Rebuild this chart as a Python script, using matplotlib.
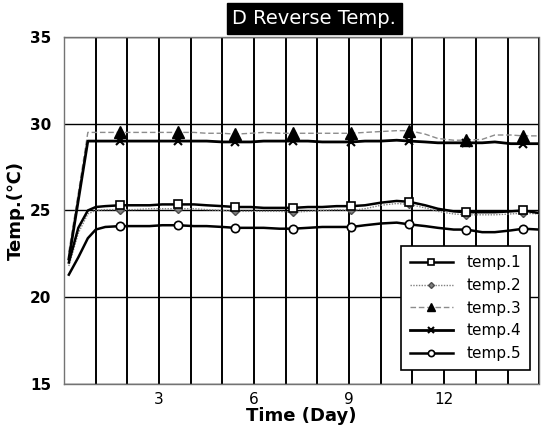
import matplotlib
matplotlib.use("Agg")
import matplotlib.pyplot as plt
from matplotlib.ticker import MultipleLocator

# time in days
days = [0.15, 0.45, 0.75, 1.0, 1.3, 1.77, 2.2, 2.7, 3.1, 3.6, 4.1, 4.5, 5.0, 5.4, 5.9, 6.3, 6.8,
        7.23, 7.7, 8.15, 8.6, 9.07, 9.5, 10.0, 10.5, 10.9, 11.4, 11.8, 12.3, 12.7, 13.2, 13.6,
        14.1, 14.5, 15.0]

temp1 = [22.0, 24.0, 25.0, 25.2, 25.25, 25.3, 25.3, 25.3, 25.35, 25.35, 25.35, 25.3, 25.25, 25.2,
         25.2, 25.15, 25.15, 25.15, 25.2, 25.2, 25.25, 25.25, 25.3, 25.45, 25.55, 25.5, 25.3, 25.1,
         24.95, 24.9, 24.9, 24.9, 24.95, 25.0, 24.85]
temp2 = [21.8, 23.7, 24.8, 25.0, 25.05, 25.05, 25.05, 25.1, 25.1, 25.1, 25.1, 25.05, 25.0, 24.95,
         24.95, 24.95, 24.95, 24.9, 24.95, 25.0, 25.05, 25.0, 25.1, 25.3, 25.4, 25.35, 25.15, 24.95,
         24.8, 24.75, 24.75, 24.75, 24.8, 24.85, 24.8]
temp3 = [22.6, 26.0, 29.5, 29.5, 29.5, 29.5, 29.5, 29.5, 29.5, 29.5, 29.5, 29.45, 29.45, 29.4,
         29.45, 29.5, 29.45, 29.45, 29.45, 29.45, 29.45, 29.45, 29.5, 29.55, 29.6, 29.6, 29.4, 29.15,
         29.05, 29.05, 29.1, 29.35, 29.35, 29.3, 29.3]
temp4 = [22.2, 25.6, 29.0, 29.0, 29.0, 29.0, 29.0, 29.0, 29.0, 29.0, 29.0, 29.0, 28.95, 28.95,
         28.95, 29.0, 29.0, 29.0, 29.0, 28.95, 28.95, 28.95, 29.0, 29.0, 29.05, 29.0, 28.95, 28.9,
         28.9, 28.9, 28.9, 28.95, 28.85, 28.85, 28.85]
temp5 = [21.3, 22.3, 23.4, 23.9, 24.05, 24.1, 24.1, 24.1, 24.15, 24.15, 24.1, 24.1, 24.05, 24.0,
         24.0, 24.0, 23.95, 23.95, 24.0, 24.05, 24.05, 24.05, 24.15, 24.25, 24.3, 24.2, 24.1, 24.0,
         23.9, 23.9, 23.75, 23.75, 23.85, 23.95, 23.9]

labels = ["temp.1", "temp.2", "temp.3", "temp.4", "temp.5"]

fig = plt.figure(figsize=(5.43, 4.25), dpi=100)
ax = fig.add_axes([0.118, 0.0965, 0.875, 0.8165])

mk = slice(5, None, 4)
ax.plot(days, temp3, color="0.55", lw=1.0, ls=(0, (4, 2)), marker="^", ms=8,
        mfc="black", mec="black", markevery=mk, label=labels[2])
ax.plot(days, temp4, color="black", lw=2.0, marker="x", ms=6, mew=1.5,
        markevery=mk, label=labels[3])
ax.plot(days, temp2, color="0.5", lw=1.0, ls=(0, (1, 1)), marker="D", ms=4,
        mfc="0.5", mec="0.3", markevery=mk, label=labels[1])
ax.plot(days, temp1, color="black", lw=1.8, marker="s", ms=6, mfc="white", mec="black",
        mew=1.2, markevery=mk, label=labels[0])
ax.plot(days, temp5, color="black", lw=1.8, marker="o", ms=6, mfc="white", mec="black",
        mew=1.2, markevery=mk, label=labels[4])

ax.set_xlim(0, 15)
ax.set_ylim(15, 35)
ax.xaxis.set_minor_locator(MultipleLocator(1))
ax.yaxis.set_major_locator(MultipleLocator(5))
ax.set_xticks([3, 6, 9, 12])
ax.grid(True, which="both", axis="x", color="black", lw=1.4)
ax.grid(True, which="major", axis="y", color="black", lw=1.0)
ax.set_axisbelow(True)
ax.tick_params(which="both", length=0, labelsize=11)
ax.tick_params(axis="x", pad=6)
ax.tick_params(axis="y", pad=9)
for lab in ax.get_yticklabels():
    lab.set_fontweight("bold")
for s in ax.spines.values():
    s.set_color("0.45")
    s.set_linestyle((0, (2, 1)))
    s.set_linewidth(1.0)

ax.set_xlabel("Time (Day)", fontsize=13, fontweight="bold", labelpad=0)
ax.set_ylabel("Temp.(℃)", fontsize=13, fontweight="bold", labelpad=4)

handles, labs = ax.get_legend_handles_labels()
order = [labs.index(l) for l in labels]
leg = ax.legend([handles[i] for i in order], labels, loc="lower right",
                bbox_to_anchor=(0.981, 0.04), fontsize=11, frameon=True, fancybox=False,
                edgecolor="black", framealpha=1, labelspacing=0.5, handlelength=2.8,
                borderpad=0.6, handletextpad=0.9, borderaxespad=0, markerscale=0.75)
leg.get_frame().set_linewidth(1.2)

fig.text(0.579, 0.957, "D Reverse Temp.", color="white", fontsize=14, ha="center", va="center",
         bbox=dict(boxstyle="square,pad=0.3", fc="black", ec="black"))

fig.savefig("out.png", dpi=100)
